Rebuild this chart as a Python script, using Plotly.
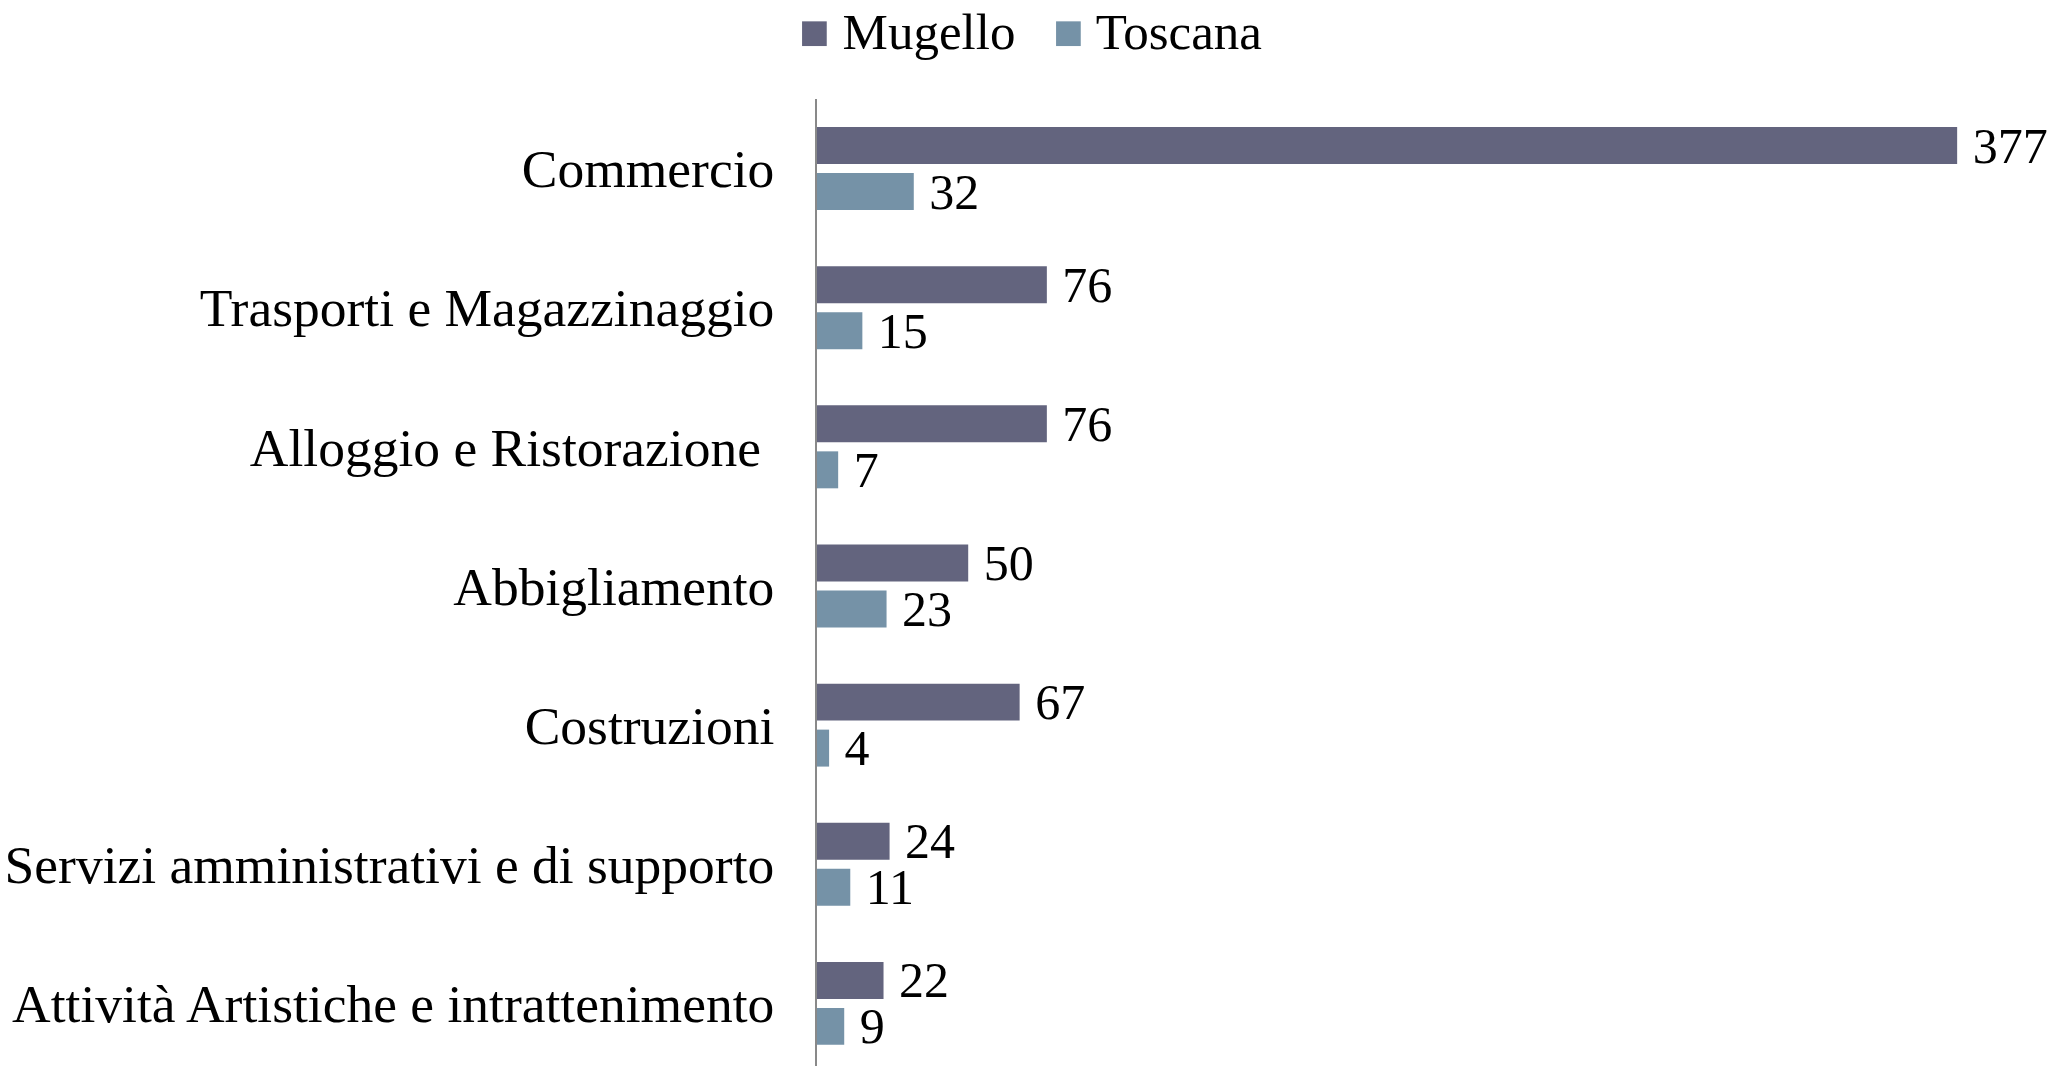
import plotly.graph_objects as go

categories = [
    "Commercio",
    "Trasporti e Magazzinaggio",
    "Alloggio e Ristorazione\u00a0",
    "Abbigliamento",
    "Costruzioni",
    "Servizi amministrativi e di supporto",
    "Attività Artistiche e intrattenimento",
]
mugello = [377, 76, 76, 50, 67, 24, 22]
toscana = [32, 15, 7, 23, 4, 11, 9]
series_names = ["Mugello", "Toscana"]
colors = ["#63647E", "#7592A7"]

FONT = "Georgia, 'Liberation Serif', serif"

fig = go.Figure()
for name, vals, col in zip(series_names, [mugello, toscana], colors):
    fig.add_trace(go.Bar(
        y=categories, x=vals, name=name, orientation="h",
        marker=dict(color=col, line=dict(width=0)),
        text=["\u00a0" + str(v) for v in vals],
        textposition="outside",
        textfont=dict(family=FONT, size=50, color="#000000"),
        cliponaxis=False,
        constraintext="none",
        showlegend=False,
    ))

# legend drawn as annotations (large square swatches like the reference)
legend_x = [-0.016, 0.190]
for name, col, lx in zip(series_names, colors, legend_x):
    fig.add_annotation(
        xref="paper", yref="paper", x=lx, y=1.069,
        xanchor="left", yanchor="middle", showarrow=False,
        text=f'<span style="color:{col}">\u25A0</span> {name}',
        font=dict(family=FONT, size=51, color="#000000"),
    )

fig.update_layout(
    width=2050, height=1066,
    margin=dict(l=817, r=0, t=99, b=0),
    paper_bgcolor="white", plot_bgcolor="white",
    barmode="group", bargap=0.339, bargroupgap=0.196,
    font=dict(family=FONT, size=53.5, color="#000000"),
    showlegend=False,
    xaxis=dict(visible=False, range=[0, 407.7]),
    yaxis=dict(
        type="category", categoryorder="array", categoryarray=categories,
        range=[6.45, -0.5],
        showline=True, linecolor="#898989", linewidth=2,
        showgrid=False, zeroline=False, ticks="",
        ticklabelstandoff=30,
        tickfont=dict(family=FONT, size=53.5, color="#000000"),
    ),
)

fig.write_html(
    "out.html",
    config={"displayModeBar": False},
    post_script="document.body.style.margin='0';document.body.style.overflow='hidden';",
)
